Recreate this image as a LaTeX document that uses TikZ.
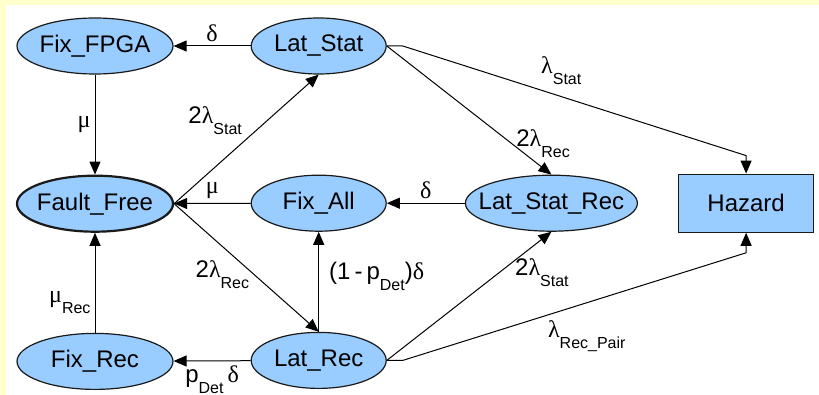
\documentclass[tikz,border=0pt]{standalone}
\usepackage{fontspec}
\setmainfont{Liberation Sans}
\newfontfamily\greekfont{Liberation Serif}
\usepackage{xcolor}
\usepackage{tikz}
\usetikzlibrary{arrows.meta,positioning,shapes.geometric}
\definecolor{statefill}{HTML}{99CCFF}
\definecolor{stateline}{HTML}{1A1A1A}
\definecolor{pagebg}{HTML}{FFFFCC}
\newcommand{\gk}[1]{{\greekfont #1}}
\newcommand{\lowsub}[1]{\raisebox{-5.5pt}{\fontsize{8}{9}\selectfont #1}}
\tikzset{
  % the ellipse size is fixed, the text may run up to its border
  state/.style={draw=stateline, line width=0.6pt, ellipse, fill=statefill,
               minimum width=67.5pt, minimum height=28pt, inner sep=0pt,
               font=\fontsize{12}{14}\selectfont,
               execute at begin node={\hbox to 0pt\bgroup\hss},
               execute at end node={\hss\egroup}},
  wide/.style={minimum width=78pt},
  widest/.style={minimum width=86pt},
  startstate/.style={line width=1.1pt},
  hazardbox/.style={draw=stateline, line width=0.6pt, rectangle, fill=statefill,
               minimum width=67.5pt, minimum height=29pt, inner sep=0pt,
               font=\fontsize{12}{14}\selectfont},
  trans/.style={-{Triangle[length=6.5pt,width=5.5pt]}, line width=0.5pt},
  rate/.style={font=\fontsize{12}{14}\selectfont, inner sep=2pt},
}
\begin{document}
\begin{tikzpicture}

  % page: yellow strip on top and left
  \fill[pagebg] (0,0) rectangle (409.5pt,-197.5pt);
  \fill[white] (3pt,-2.5pt) rectangle (409.5pt,-197.5pt);
  \useasboundingbox (0,0) rectangle (409.5pt,-197.5pt);

  \node[state, wide] (fixfpga) at (47.5pt,-23pt) {Fix\_FPGA};
  \node[state, right=38.5pt of fixfpga] (latstat) {Lat\_Stat};

  \node[state, wide, startstate, below=50pt of fixfpga] (faultfree) {Fault\_Free};
  \node[state, below=50pt of latstat] (fixall) {Fix\_All};
  \node[state, widest, right=39pt of fixall] (latstatrec) {Lat\_Stat\_Rec};
  \node[hazardbox, right=20pt of latstatrec] (hazard) {Hazard};

  \node[state, wide, below=50pt of faultfree] (fixrec) {Fix\_Rec};
  \node[state, below=50pt of fixall] (latrec) {Lat\_Rec};

  \coordinate[right=8pt of latstat] (statout);
  \coordinate[right=8pt of latrec] (recout);
  \coordinate[above=9pt of hazard] (hazardin);
  \coordinate[below=10pt of hazard] (hazardlow);

  \draw[trans] (latstat) -- node[rate, above] {\gk{δ}} (fixfpga);
  \draw[trans] (fixfpga) -- node[rate, left] {\gk{μ}} (faultfree);
  \draw[trans] (faultfree.east) -- node[rate, pos=0.5, above left] {2\gk{λ}\lowsub{Stat}} (latstat.south);
  \draw[trans] (latstat.east) -- node[rate, pos=0.76, right] {2\gk{λ}\lowsub{Rec}} (latstatrec.north);
  \draw[trans] (latstat.east) -- (statout) -- node[rate, pos=0.39, above right] {\gk{λ}\lowsub{Stat}} (hazardin) -- (hazard.north);

  \draw[trans] (latstatrec) -- node[rate, above] {\gk{δ}} (fixall);
  \draw[trans] (fixall) -- node[rate, above] {\gk{μ}} (faultfree);

  \draw[trans] (faultfree.east) -- node[rate, pos=0.55, left] {2\gk{λ}\lowsub{Rec}} (latrec.north);
  \draw[trans] (latrec) -- node[rate, pos=0.55, right=3pt] {(1\hspace{2pt}-\hspace{2pt}p\lowsub{Det})\gk{δ}} (fixall);
  \draw[trans] (latrec.east) -- node[rate, pos=0.68, right=6pt] {2\gk{λ}\lowsub{Stat}} (latstatrec.south);
  \draw[trans] (latrec.east) -- (recout) -- node[rate, pos=0.41, below right] {\gk{λ}\lowsub{Rec\_Pair}} (hazardlow) -- (hazard.south);
  \draw[trans] (latrec) -- node[rate, below] {p\lowsub{Det}\,\gk{δ}} (fixrec);
  \draw[trans] (fixrec) -- node[rate, pos=0.3, left] {\gk{μ}\lowsub{Rec}} (faultfree);

\end{tikzpicture}
\end{document}
